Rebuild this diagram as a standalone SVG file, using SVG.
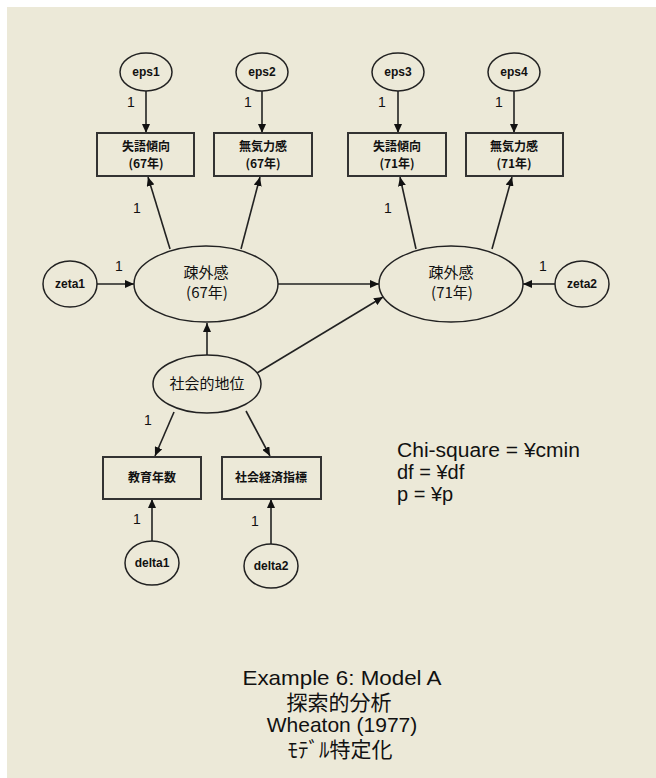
<svg xmlns="http://www.w3.org/2000/svg" width="656" height="778" viewBox="0 0 656 778">
<style>
.bg{fill:#ECE9D8}
.node{fill:#ECE9D8;stroke:#222;stroke-width:1.5}
.box{fill:#ECE9D8;stroke:#333;stroke-width:2}
.con{stroke:#222;stroke-width:1.6;fill:none;marker-end:url(#ah)}
.t{font-family:"Liberation Sans","Noto Sans CJK JP",sans-serif;fill:#111;text-anchor:middle}
.jp{font-family:"Noto Sans CJK JP","Liberation Sans",sans-serif;fill:#111;text-anchor:middle}
.sm{font-size:12px;font-weight:bold}
.bx{font-size:12px;font-weight:bold}
.lt{font-size:15px}
.lab{font-family:"Liberation Sans",sans-serif;font-size:14px;fill:#111;text-anchor:middle}
.info{font-family:"Liberation Sans",sans-serif;font-size:20px;fill:#111}
.title{font-family:"Liberation Sans","Noto Sans CJK JP",sans-serif;font-size:21px;fill:#111;text-anchor:middle}
</style>
<defs>
<marker id="ah" markerUnits="userSpaceOnUse" markerWidth="9" markerHeight="8" refX="9" refY="4" orient="auto">
<path d="M0,0 L9,4 L0,8 z" fill="#111"/>
</marker>
</defs>
<rect x="0" y="0" width="656" height="778" fill="#fff"/>
<rect class="bg" x="7" y="7" width="649" height="771"/>

<g id="connectors">
<line class="con" x1="146" y1="91" x2="146" y2="133"/>
<line class="con" x1="262" y1="91" x2="262" y2="133"/>
<line class="con" x1="398" y1="91" x2="398" y2="133"/>
<line class="con" x1="514" y1="91" x2="514" y2="133"/>
<line class="con" x1="170" y1="249" x2="148" y2="177"/>
<line class="con" x1="241" y1="249" x2="260" y2="177"/>
<line class="con" x1="416" y1="249" x2="400" y2="177"/>
<line class="con" x1="492" y1="249" x2="512" y2="177"/>
<line class="con" x1="97" y1="284" x2="134" y2="284"/>
<line class="con" x1="555" y1="284" x2="523" y2="284"/>
<line class="con" x1="278" y1="284" x2="379" y2="284"/>
<line class="con" x1="207" y1="355" x2="207" y2="323"/>
<line class="con" x1="257" y1="373" x2="383" y2="297"/>
<line class="con" x1="174" y1="412" x2="155" y2="456"/>
<line class="con" x1="246" y1="411" x2="270" y2="456"/>
<line class="con" x1="152" y1="541" x2="152" y2="499"/>
<line class="con" x1="271" y1="544" x2="271" y2="499"/>
</g>

<g id="labels">
<text class="lab" x="131" y="107">1</text>
<text class="lab" x="248" y="107">1</text>
<text class="lab" x="382" y="107">1</text>
<text class="lab" x="499" y="107">1</text>
<text class="lab" x="137" y="213">1</text>
<text class="lab" x="388" y="213">1</text>
<text class="lab" x="119" y="271">1</text>
<text class="lab" x="543" y="271">1</text>
<text class="lab" x="148" y="425">1</text>
<text class="lab" x="137" y="524">1</text>
<text class="lab" x="255" y="526">1</text>
</g>

<g id="eps1"><ellipse class="node" cx="146" cy="72" rx="26" ry="19"/><text class="t sm" x="146" y="76">eps1</text></g>
<g id="eps2"><ellipse class="node" cx="262" cy="72" rx="26" ry="19"/><text class="t sm" x="262" y="76">eps2</text></g>
<g id="eps3"><ellipse class="node" cx="398" cy="72" rx="26" ry="19"/><text class="t sm" x="398" y="76">eps3</text></g>
<g id="eps4"><ellipse class="node" cx="514" cy="72" rx="26" ry="19"/><text class="t sm" x="514" y="76">eps4</text></g>

<g id="box1"><rect class="box" x="97" y="133" width="97" height="43"/><text class="jp bx" x="146" y="151">失語傾向</text><text class="jp bx" x="146" y="168">(67年)</text></g>
<g id="box2"><rect class="box" x="214" y="133" width="98" height="43"/><text class="jp bx" x="263" y="151">無気力感</text><text class="jp bx" x="263" y="168">(67年)</text></g>
<g id="box3"><rect class="box" x="348" y="133" width="98" height="43"/><text class="jp bx" x="397" y="151">失語傾向</text><text class="jp bx" x="397" y="168">(71年)</text></g>
<g id="box4"><rect class="box" x="466" y="133" width="97" height="43"/><text class="jp bx" x="514" y="151">無気力感</text><text class="jp bx" x="514" y="168">(71年)</text></g>

<g id="zeta1"><ellipse class="node" cx="70" cy="284" rx="27" ry="23"/><text class="t sm" x="70" y="288">zeta1</text></g>
<g id="zeta2"><ellipse class="node" cx="582" cy="284" rx="27" ry="23"/><text class="t sm" x="582" y="288">zeta2</text></g>

<g id="alien67"><ellipse class="node" cx="206" cy="284" rx="72" ry="38"/><text class="jp lt" x="206" y="278">疎外感</text><text class="jp lt" x="207" y="298">(67年)</text></g>
<g id="alien71"><ellipse class="node" cx="451" cy="284" rx="72" ry="38"/><text class="jp lt" x="451" y="278">疎外感</text><text class="jp lt" x="452" y="298">(71年)</text></g>

<g id="ses"><ellipse class="node" cx="207" cy="384" rx="54" ry="29"/><text class="jp lt" x="207" y="389">社会的地位</text></g>

<g id="edu"><rect class="box" x="103" y="457" width="98" height="42"/><text class="jp bx" x="152" y="482">教育年数</text></g>
<g id="sei"><rect class="box" x="222" y="457" width="99" height="42"/><text class="jp bx" x="271" y="482">社会経済指標</text></g>

<g id="delta1"><ellipse class="node" cx="152" cy="563" rx="27" ry="22"/><text class="t sm" x="152" y="567">delta1</text></g>
<g id="delta2"><ellipse class="node" cx="271" cy="566" rx="27" ry="22"/><text class="t sm" x="271" y="570">delta2</text></g>

<g id="fit">
<text class="info" x="397" y="457" textLength="183" lengthAdjust="spacingAndGlyphs">Chi-square = ¥cmin</text>
<text class="info" x="397" y="479">df = ¥df</text>
<text class="info" x="397" y="501">p = ¥p</text>
</g>

<g id="title">
<text class="title" x="342" y="685" textLength="199" lengthAdjust="spacingAndGlyphs">Example 6: Model A</text>
<text class="title" x="339" y="710">探索的分析</text>
<text class="title" x="342" y="732">Wheaton (1977)</text>
<text class="title" x="340" y="757">ﾓﾃﾞﾙ特定化</text>
</g>
</svg>
